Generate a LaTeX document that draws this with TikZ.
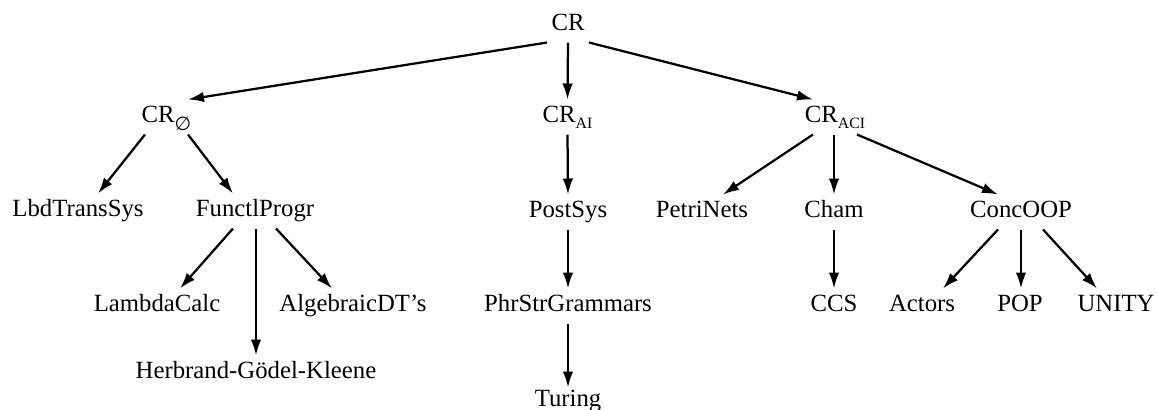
\documentclass[tikz,border=0pt]{standalone}
\usepackage{fontspec}
\setmainfont{Liberation Serif}
\newfontfamily\dejavu{DejaVu Sans}
\usetikzlibrary{arrows.meta}
\newcommand{\subtxt}[1]{\raisebox{-2.6pt}{\fontsize{6.3}{7}\selectfont #1}}
\begin{document}
\begin{tikzpicture}[x=0.4pt,y=-0.4pt,
  lbl/.style={inner xsep=1pt,inner ysep=2pt,text height=6.8pt,text depth=2.8pt,anchor=base,
    font=\fontsize{9.9}{12}\selectfont},
  arr/.style={line width=0.9pt,-{Latex[length=6.4pt,width=4.2pt]}}]
\useasboundingbox (0,0) rectangle (1158,409);
% nodes
\node[lbl] (cr)    at (568,30)  {CR};
\node[lbl] (cr0)   at (166.5,122) {CR\raisebox{-3.4pt}{\fontsize{7.6}{8}\dejavu ∅}};
\node[lbl] (crai)  at (567.5,122) {CR\subtxt{AI}};
\node[lbl] (craci) at (835,122) {CR\subtxt{ACI}};
\node[lbl] (lbd)   at (78,216)  {LbdTransSys};
\node[lbl] (fp)    at (255,216) {FunctlProgr};
\node[lbl] (post)  at (568,217) {PostSys};
\node[lbl] (petri) at (702,217) {PetriNets};
\node[lbl] (cham)  at (834,217) {Cham};
\node[lbl] (conc)  at (1021,217) {ConcOOP};
\node[lbl] (lam)   at (157,311) {LambdaCalc};
\node[lbl] (alg)   at (353,311) {AlgebraicDT’s};
\node[lbl] (phr)   at (568,311) {PhrStrGrammars};
\node[lbl] (ccs)   at (834,311) {CCS};
\node[lbl] (act)   at (922,311) {Actors};
\node[lbl] (pop)   at (1020,311) {POP};
\node[lbl] (uni)   at (1116,311) {UNITY};
\node[lbl] (hgk)   at (256,378) {Herbrand-Gödel-Kleene};
\node[lbl] (tur)   at (568,406) {Turing};
% connectors
\draw[arr] ([xshift=-8.4pt]cr.south) -- ([xshift=8.6pt]cr0.north);
\draw[arr] (cr.south) -- (crai.north);
\draw[arr] ([xshift=8.4pt]cr.south) -- ([xshift=-8.8pt]craci.north);
\draw[arr] ([xshift=-8.6pt]cr0.south) -- ([xshift=8pt]lbd.north);
\draw[arr] ([xshift=8.6pt]cr0.south) -- ([xshift=-8.8pt]fp.north);
\draw[arr] ([xshift=-8.8pt]fp.south) -- ([xshift=9.2pt]lam.north);
\draw[arr] ([xshift=0.4pt]fp.south) -- ([xshift=0pt]hgk.north);
\draw[arr] ([xshift=8.4pt]fp.south) -- ([xshift=-8.4pt]alg.north);
\draw[arr] (crai.south) -- (post.north);
\draw[arr] (post.south) -- (phr.north);
\draw[arr] (phr.south) -- ([yshift=-1.6pt]tur.north);
\draw[arr] ([xshift=-8.8pt]craci.south) -- ([xshift=8.4pt]petri.north);
\draw[arr] ([xshift=-0.4pt]craci.south) -- (cham.north);
\draw[arr] ([xshift=8.8pt]craci.south) -- ([xshift=-9.2pt]conc.north);
\draw[arr] (cham.south) -- (ccs.north);
\draw[arr] ([xshift=-9.2pt]conc.south) -- ([xshift=8.4pt]act.north);
\draw[arr] (conc.south) -- ([xshift=0.4pt]pop.north);
\draw[arr] ([xshift=8.8pt]conc.south) -- ([xshift=-7.6pt]uni.north);
\end{tikzpicture}
\end{document}
